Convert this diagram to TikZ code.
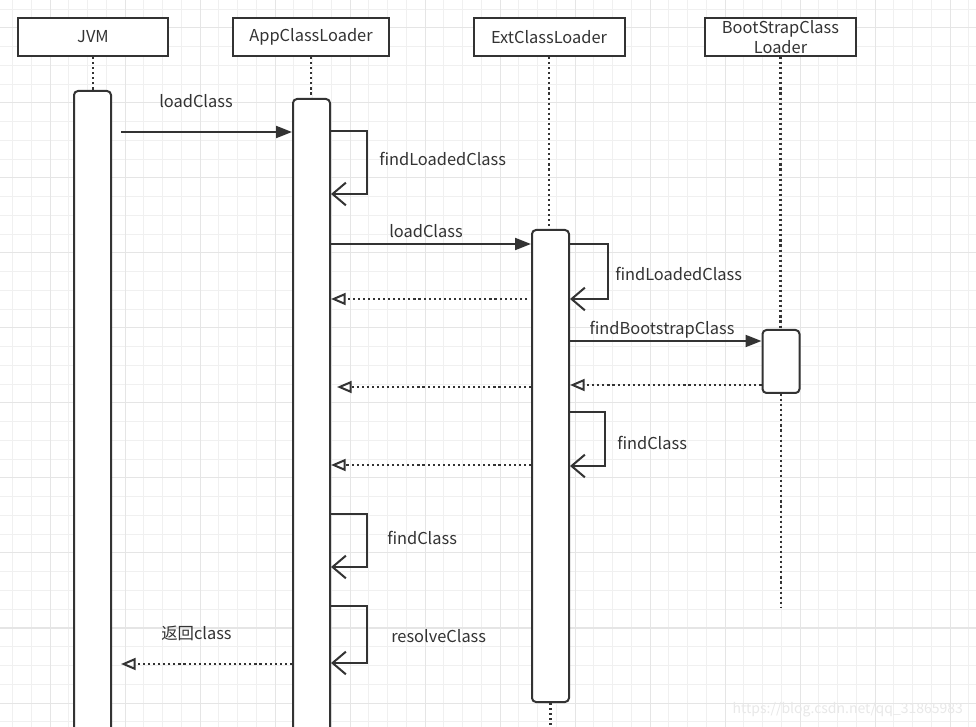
\documentclass[tikz,border=0pt]{standalone}
\usepackage{fontspec}
\setmainfont{Noto Sans CJK SC}
\usetikzlibrary{arrows.meta,calc}
\definecolor{inkgray}{HTML}{333333}
\definecolor{gridminor}{HTML}{F0F0F0}
\definecolor{gridmajor}{HTML}{E5E5E5}

\tikzset{
  actor/.style={draw=inkgray,line width=1.5pt,fill=white,minimum height=28.5pt,
    inner sep=0pt,text=inkgray,font=\fontsize{12.3}{15}\selectfont,align=center},
  bar/.style={draw=inkgray,line width=1.5pt,fill=white,rounded corners=3pt,
    minimum width=27.75pt,inner sep=0pt},
  life/.style={inkgray,line width=1.6pt,dash pattern=on 1.6pt off 2.2pt},
  call/.style={inkgray,line width=1.5pt,-{Triangle[length=12pt,width=9pt]}},
  selfcall/.style={inkgray,line width=1.5pt,-{Straight Barb[length=10pt,width=17pt]}},
  ret/.style={life,-{Triangle[open,length=11pt,width=9pt,line width=1.5pt]}},
  lbl/.style={text=inkgray,font=\fontsize{12.3}{14}\selectfont,inner sep=0pt}
}

\begin{document}
\begin{tikzpicture}[x=0.75pt,y=-0.75pt]
\useasboundingbox (0,0) rectangle (976,727);
% the grid paper
\fill[white] (0,0) rectangle (976,727);
\foreach \i in {0,...,51}
  \draw[gridminor,line width=0.75pt] ({12.5+18.75*\i},0) -- ++(0,727);
\foreach \j in {0,...,38}
  \draw[gridminor,line width=0.75pt] (0,{9.25+18.75*\j}) -- ++(976,0);
\foreach \i in {0,...,12}
  \draw[gridmajor,line width=0.75pt] ({50+75*\i},0) -- ++(0,727);
\foreach \j in {0,...,9}
  \draw[gridmajor,line width=0.75pt] (0,{28+75*\j}) -- ++(976,0);

% the participants
\node[actor,minimum width=112.5pt] (jvm) at (93,37) {JVM};
\node[actor,minimum width=117pt] (app) at (311,37) {AppClassLoader};
\node[actor,minimum width=113.25pt] (ext) at (549,37) {ExtClassLoader};
\node[actor,minimum width=113.25pt] (boot) at (780.5,37) {BootStrapClass\\Loader};

% activation bars
\node[bar,minimum height=486.75pt] (jvmbar) at (92.5,415.5) {};
\node[bar,minimum height=480.75pt] (appbar) at (311.5,419.5) {};
\node[bar,minimum height=354pt] (extbar) at (550.5,466) {};
\node[bar,minimum height=47.25pt] (bootbar) at (781,361.5) {};
\coordinate (extend) at (550.5,727);
\coordinate (bootend) at (781,607);

% lifelines
\draw[life] (jvm.south) -- (jvm.south|-jvmbar.north);
\draw[life] (app.south) -- (app.south|-appbar.north);
\draw[life] (ext.south) -- (ext.south|-extbar.north);
\draw[life] (extbar.south) -- (extend);
\draw[life] (boot.south) -- (boot.south|-bootbar.north);
\draw[life] (bootbar.south) -- (bootend);

% JVM -> AppClassLoader
\draw[call] ($(jvmbar.east|-0,132)+(9,0)$) -- (appbar.west|-0,132);
\node[lbl] (lload1) at (196,101) {loadClass};
\draw[selfcall] (appbar.east|-0,131) -| ($(appbar.east|-0,194)+(36,0)$) -- (appbar.east|-0,194);
\node[lbl,anchor=west] (lfind1) at (379,159) {findLoadedClass};

% AppClassLoader -> ExtClassLoader
\draw[call] (appbar.east|-0,244) -- (extbar.west|-0,244);
\node[lbl] (lload2) at (426,231) {loadClass};
\draw[selfcall] (extbar.east|-0,244) -| ($(extbar.east|-0,299)+(38,0)$) -- (extbar.east|-0,299);
\node[lbl,anchor=west] (lfind2) at (615,274) {findLoadedClass};
\draw[ret] ($(extbar.west|-0,299)+(-4,0)$) -- (appbar.east|-0,299);

% ExtClassLoader -> BootStrapClassLoader
\draw[call] (extbar.east|-0,341) -- (bootbar.west|-0,341);
\node[lbl] (lboot) at (662,330) {findBootstrapClass};
\draw[ret] (bootbar.west|-0,385) -- (extbar.east|-0,385);
\draw[ret] (extbar.west|-0,387) -- ($(appbar.east|-0,387)+(6,0)$);

% ExtClassLoader findClass
\draw[selfcall] (extbar.east|-0,412) -| ($(extbar.east|-0,466)+(35,0)$) -- (extbar.east|-0,466);
\node[lbl,anchor=west] (lfind3) at (617,443) {findClass};
\draw[ret] (extbar.west|-0,465) -- (appbar.east|-0,465);

% AppClassLoader findClass, resolveClass
\draw[selfcall] (appbar.east|-0,514) -| ($(appbar.east|-0,567)+(36,0)$) -- (appbar.east|-0,567);
\node[lbl,anchor=west] (lfind4) at (387,538) {findClass};
\draw[selfcall] (appbar.east|-0,606) -| ($(appbar.east|-0,663)+(36,0)$) -- (appbar.east|-0,663);
\node[lbl,anchor=west] (lresolve) at (391,636) {resolveClass};

% back to the JVM
\draw[ret] (appbar.west|-0,664) -- ($(jvmbar.east|-0,664)+(9,0)$);
\node[lbl,anchor=west] (lback) at (161,633) {返回class};

\node[text=black!9,font=\fontsize{10.5}{12}\selectfont,anchor=west] (mark) at (728,710) {https://blog.csdn.net/qq\_31865983};
\end{tikzpicture}
\end{document}
